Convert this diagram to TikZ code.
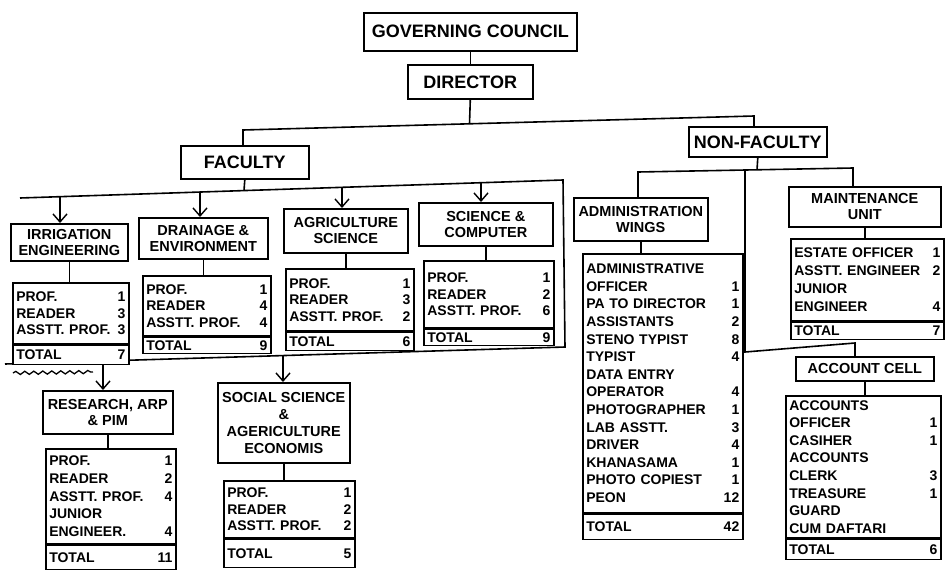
\documentclass[tikz,border=0pt]{standalone}
\usepackage{fontspec}
\setmainfont{Liberation Sans}
\usetikzlibrary{arrows.meta,decorations.pathmorphing}
\newcommand{\rw}[2]{\makebox[\linewidth]{#1\hfill#2}}
\begin{document}
\begin{tikzpicture}[x=1pt,y=-1pt,
  ln/.style={line width=1.6pt},
  arr/.style={line width=1.6pt,-{Straight Barb[length=8pt,width=14pt,line width=1.4pt]}},
  bx/.style={draw,fill=white,line width=1.6pt,inner sep=0pt,anchor=north west,align=center,font=\bfseries\fontsize{14.5}{16}\selectfont},
  lst/.style={draw,fill=white,line width=1.6pt,inner xsep=3.5pt,inner ysep=1pt,anchor=north west,align=left,font=\bfseries\fontsize{14}{17.6}\selectfont},
  lsts/.style={lst,font=\bfseries\fontsize{14}{16.6}\selectfont},
  big/.style={font=\bfseries\fontsize{18}{20}\selectfont}
]
\fill[white] (0,0) rectangle (948,571);
\useasboundingbox (0,0) rectangle (948,571);

% ---------- top ----------
\node[bx,big,minimum width=213pt,minimum height=38pt] (gc) at (363,12) {GOVERNING COUNCIL};
\node[bx,big,minimum width=125pt,minimum height=34pt] (dir) at (407,64) {DIRECTOR};
\node[bx,big,minimum width=128pt,minimum height=33pt] (fac) at (180,145) {FACULTY};
\node[bx,big,minimum width=138pt,minimum height=30pt] (nf) at (688,126) {NON-FACULTY};

\coordinate (b1L) at (243,130);
\coordinate (b1R) at (754,116);
\coordinate (b1M) at (469.5,123.8);
\draw[ln] (gc.south) -- (dir.north);
\draw[ln] (dir.south) -- (b1M);
\draw[ln] (fac.north -| b1L) -- (b1L) -- (b1R) -- (nf.north -| b1R);

% ---------- faculty ----------
\node[bx,minimum width=117pt,minimum height=37pt] (irr) at (10,223) {IRRIGATION\\ENGINEERING};
\node[bx,minimum width=129pt,minimum height=41pt] (dra) at (138,217) {DRAINAGE \&\\ENVIRONMENT};
\node[bx,minimum width=124pt,minimum height=44pt] (agr) at (283,208) {AGRICULTURE\\SCIENCE};
\node[bx,minimum width=134pt,minimum height=43pt] (sci) at (418,202) {SCIENCE \&\\COMPUTER};
\node[bx,minimum width=130pt,minimum height=43pt] (res) at (42,390) {RESEARCH, ARP\\\& PIM};
\node[bx,minimum width=132pt,minimum height=80pt,font=\bfseries\fontsize{14.5}{17}\selectfont] (soc) at (217,382) {SOCIAL SCIENCE\\\&\\AGERICULTURE\\ECONOMIS};

\coordinate (f1L) at (20,198);
\coordinate (f1R) at (563,180);
\coordinate (f2R) at (565,347);
\coordinate (f2L) at (5,364);
\coordinate (fj) at (244,190.6);
\draw[ln] (f1L) -- (f1R) -- (f2R) -- (f2L);
\draw[ln] (fac.south) -- (fj);

\coordinate (t1) at (60,196.7);
\coordinate (t2) at (200,192.0);
\coordinate (t3) at (342,187.3);
\coordinate (t4) at (481,182.7);
\coordinate (t5) at (103,361.0);
\coordinate (t6) at (283,355.6);
\draw[arr] (t1) -- (t1 |- irr.north);
\draw[arr] (t2) -- (t2 |- dra.north);
\draw[arr] (t3) -- (t3 |- agr.north);
\draw[arr] (t4) -- (t4 |- sci.north);
\draw[arr] (t5) -- (t5 |- res.north);
\draw[arr] (t6) -- (t6 |- soc.north);
\draw[line width=1.3pt,decorate,decoration={snake,amplitude=1.6pt,segment length=9pt}] (13,373) -- (93,372);

% staff boxes (faculty)
\node[lsts,text width=109pt,minimum height=61pt] (irrS) at (12,282) {\rw{PROF.}{1}\\\rw{READER}{3}\\\rw{ASSTT. PROF.}{3}};
\node[lsts,text width=109pt,minimum height=19pt] (irrT) at (irrS.south west) {\rw{TOTAL}{7}};
\node[lsts,text width=121pt,minimum height=60pt] (draS) at (142,275) {\rw{PROF.}{1}\\\rw{READER}{4}\\\rw{ASSTT. PROF.}{4}};
\node[lsts,text width=121pt,minimum height=16pt] (draT) at (draS.south west) {\rw{TOTAL}{9}};
\node[lsts,text width=121pt,minimum height=62pt] (agrS) at (285,268) {\rw{PROF.}{1}\\\rw{READER}{3}\\\rw{ASSTT. PROF.}{2}};
\node[lsts,text width=121pt,minimum height=18pt] (agrT) at (agrS.south west) {\rw{TOTAL}{6}};
\node[lsts,text width=123pt,minimum height=67pt] (sciS) at (423,260) {\rw{PROF.}{1}\\\rw{READER}{2}\\\rw{ASSTT. PROF.}{6}};
\node[lsts,text width=123pt,minimum height=16pt] (sciT) at (sciS.south west) {\rw{TOTAL}{9}};
\node[lst,text width=123pt,minimum height=95pt] (resS) at (45,448) {\rw{PROF.}{1}\\\rw{READER}{2}\\\rw{ASSTT. PROF.}{4}\\\rw{JUNIOR}{}\\\rw{ENGINEER.}{4}};
\node[lst,text width=123pt,minimum height=24pt] (resT) at (resS.south west) {\rw{TOTAL}{11}};
\node[lsts,text width=124pt,minimum height=57pt] (socS) at (223,480) {\rw{PROF.}{1}\\\rw{READER}{2}\\\rw{ASSTT. PROF.}{2}};
\node[lsts,text width=124pt,minimum height=28pt] (socT) at (socS.south west) {\rw{TOTAL}{5}};

\draw[ln] (irr.south) -- (irr.south |- irrS.north);
\draw[ln] (dra.south) -- (dra.south |- draS.north);
\draw[ln] (agr.south) -- (agr.south |- agrS.north);
\draw[ln] (sci.south) -- (sci.south |- sciS.north);
\draw[ln] (res.south) -- (res.south |- resS.north);
\draw[ln] (soc.south) -- (soc.south |- socS.north);

% ---------- non-faculty ----------
\node[bx,minimum width=134pt,minimum height=43pt] (adm) at (573,197) {ADMINISTRATION\\WINGS};
\node[bx,minimum width=152pt,minimum height=40pt] (mnt) at (788,186) {MAINTENANCE\\UNIT};
\node[bx,minimum width=138pt,minimum height=24pt] (acc) at (795,356) {ACCOUNT CELL};

\coordinate (n1L) at (638,172);
\coordinate (n1R) at (853,168);
\coordinate (nj) at (757,169.7);
\draw[ln] (nf.south) -- (nj);
\draw[ln] (adm.north -| n1L) -- (n1L) -- (n1R) -- (mnt.north -| n1R);
\coordinate (m1) at (745,170);
\coordinate (m2) at (745,352);
\coordinate (m3) at (855,343);
\draw[ln] (m1) -- (m2) -- (m3) -- (acc.north -| m3);

\node[lst,text width=153pt,minimum height=259pt] (admS) at (582,253) {\rw{ADMINISTRATIVE}{}\\\rw{OFFICER}{1}\\\rw{PA TO DIRECTOR}{1}\\\rw{ASSISTANTS}{2}\\\rw{STENO TYPIST}{8}\\\rw{TYPIST}{4}\\\rw{DATA ENTRY}{}\\\rw{OPERATOR}{4}\\\rw{PHOTOGRAPHER}{1}\\\rw{LAB ASSTT.}{3}\\\rw{DRIVER}{4}\\\rw{KHANASAMA}{1}\\\rw{PHOTO COPIEST}{1}\\\rw{PEON}{12}};
\node[lst,text width=153pt,minimum height=25pt] (admT) at (admS.south west) {\rw{TOTAL}{42}};
\node[lst,text width=146pt,minimum height=82pt,font=\bfseries\fontsize{14}{18}\selectfont] (mntS) at (790,238) {\rw{ESTATE OFFICER}{1}\\\rw{ASSTT. ENGINEER}{2}\\\rw{JUNIOR}{}\\\rw{ENGINEER}{4}};
\node[lst,text width=146pt,minimum height=17pt] (mntT) at (mntS.south west) {\rw{TOTAL}{7}};
\node[lst,text width=148pt,minimum height=142pt] (accS) at (785,395) {\rw{ACCOUNTS}{}\\\rw{OFFICER}{1}\\\rw{CASIHER}{1}\\\rw{ACCOUNTS}{}\\\rw{CLERK}{3}\\\rw{TREASURE}{1}\\\rw{GUARD}{}\\\rw{CUM DAFTARI}{}};
\node[lst,text width=148pt,minimum height=20pt] (accT) at (accS.south west) {\rw{TOTAL}{6}};

\draw[ln] (adm.south) -- (adm.south |- admS.north);
\draw[ln] (mnt.south) -- (mnt.south |- mntS.north);
\draw[ln] (acc.south) -- (acc.south |- accS.north);
\end{tikzpicture}
\end{document}
